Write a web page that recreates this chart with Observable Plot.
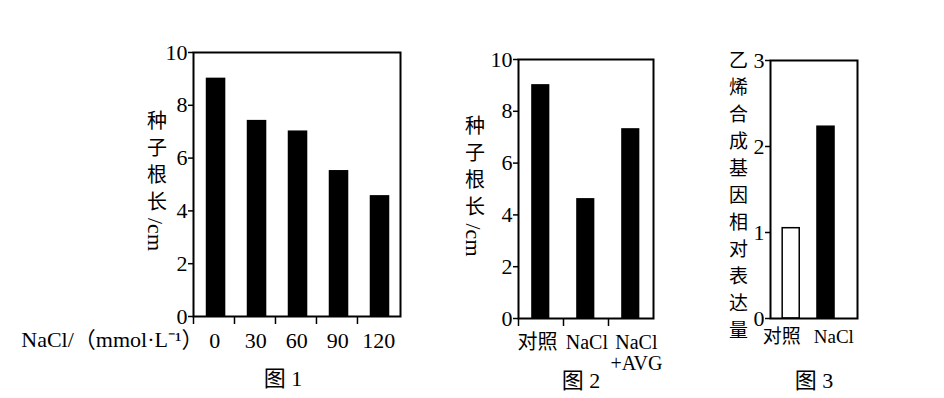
<!DOCTYPE html>
<html><head><meta charset="utf-8">
<script src="https://cdn.jsdelivr.net/npm/d3@7"></script>
<script src="https://cdn.jsdelivr.net/npm/@observablehq/plot@0.6"></script>
<style>
body{margin:0;background:#fff;}
#wrap{position:relative;width:944px;height:398px;overflow:hidden;background:#fff;}
#wrap svg{position:absolute;top:0;}
</style></head><body><div id="wrap"></div>
<script>
const fig1Categories = ["0", "30", "60", "90", "120"];
const fig1Values = [9.0, 7.4, 7.0, 5.5, 4.55];
const fig2Categories = ["对照", "NaCl", "NaCl\n+AVG"];
const fig2Values = [9.0, 4.6, 7.3];
const fig3Categories = ["对照", "NaCl"];
const fig3Values = [1.05, 2.23];
const fig1YTicks = [0, 2, 4, 6, 8, 10];
const fig2YTicks = [0, 2, 4, 6, 8, 10];
const fig3YTicks = [0, 1, 2, 3];
const rootLengthLabel = "种子根长/cm";
const ethyleneLabel = "乙烯合成基因相对表达量";
const fig1XLabel = "NaCl/（mmol·L⁻¹）";
const captions = ["图 1", "图 2", "图 3"];

const FONT = '"Liberation Serif","Noto Sans CJK SC",serif';
const CJK = /[\u4e00-\u9fff]/;

function panel(o) {
  const data = o.cats.map((c, i) => ({i, cat: c, v: o.vals[i]}));
  const marks = [
    Plot.rectY(data, {x1: d => d.i + o.bar[0], x2: d => d.i + o.bar[1], y1: 0, y2: "v",
      fill: o.fill || "black", stroke: "black", strokeWidth: 1.5}),
    Plot.frame({stroke: "black", strokeWidth: 2}),
    Plot.axisY({ticks: o.yTicks, tickSize: 5, tickPadding: 1, label: null, strokeWidth: 1.5, tickFormat: d => String(d)}),
    Plot.text(data, {x: d => d.i * o.labStep + o.lab, y: 0, text: "cat", dy: o.labDy, lineAnchor: "top", lineHeight: 1.08, fontSize: o.labSize}),
    Plot.text([o.ylabel], {frameAnchor: "left", textAnchor: "middle", dx: o.ylDx, dy: o.ylDy || 0, text: d => d, fontSize: o.ylSize, fill: "black"}),
    Plot.text([o.caption], {frameAnchor: "bottom", dx: o.capDx, dy: 62, lineAnchor: "middle", text: d => d, fontSize: 22})
  ];
  if (o.xticks) marks.push(Plot.axisX({ticks: d3.range(o.cats.length), tickFormat: () => "", tickSize: 8, strokeWidth: 1.5}));
  if (o.xlabel) marks.push(Plot.text([o.xlabel], {x: 0, y: 0, textAnchor: "end", dx: 10, dy: o.labDy, lineAnchor: "top", text: d => d, fontSize: o.labSize}));
  const svg = Plot.plot({
    width: o.width, height: 398,
    marginLeft: o.ml, marginRight: o.mr, marginTop: o.mt, marginBottom: o.mb,
    x: {domain: [0, o.xMax], axis: o.xticks ? undefined : null},
    y: {domain: o.yDomain},
    style: {fontFamily: FONT, fontSize: "22px", background: "transparent", overflow: "visible", color: "black"},
    marks
  });
  svg.style.left = o.left + "px";
  d3.select(svg).selectAll("text")
    .filter(function() { return this.textContent === o.ylabel; })
    .each(function() {
      const t = d3.select(this);
      const s = this.textContent;
      t.text(null)
        .attr("y", null)
        .attr("writing-mode", "vertical-rl")
        .style("writing-mode", "vertical-rl")
        .style("text-orientation", "mixed");
      s.match(/[\u4e00-\u9fff]+|[^\u4e00-\u9fff]+/g).forEach(r => {
        const isCJK = CJK.test(r);
        t.append("tspan")
          .style("letter-spacing", isCJK ? o.ls + "px" : "0px")
          .style("font-size", isCJK ? null : "22px")
          .text(r);
      });
    });
  document.getElementById("wrap").appendChild(svg);
}

panel({cats: fig1Categories, vals: fig1Values, yTicks: fig1YTicks, yDomain: [0, 10], xMax: 5.05,
  bar: [0.33, 0.77], lab: 0.52, labStep: 1, labDy: 15, labSize: 22, xticks: true, xlabel: fig1XLabel,
  ylabel: rootLengthLabel, ylDx: -38, ylDy: -4, ylSize: 20, ls: 7, caption: captions[0], capDx: -14,
  left: 0, width: 420, ml: 193, mr: 20, mt: 52, mb: 82});

panel({cats: fig2Categories, vals: fig2Values, yTicks: fig2YTicks, yDomain: [0, 10], xMax: 3,
  bar: [0.31, 0.68], lab: 0.42, labStep: 1.1, labDy: 15, labSize: 20, xticks: true,
  ylabel: rootLengthLabel, ylDx: -45, ylDy: -3, ylSize: 20, ls: 7, caption: captions[1], capDx: -5,
  left: 440, width: 230, ml: 78, mr: 17, mt: 59, mb: 80});

panel({cats: fig3Categories, vals: fig3Values, yTicks: fig3YTicks, yDomain: [0, 3], xMax: 2.5,
  bar: [0.35, 0.84], lab: 0.32, labStep: 1.5, labDy: 10, labSize: 19, xticks: false,
  fill: d => d.cat === "对照" ? "white" : "black",
  ylabel: ethyleneLabel, ylDx: -34, ylDy: 9, ylSize: 19, ls: 8, caption: captions[2], capDx: 0,
  left: 700, width: 200, ml: 70, mr: 43, mt: 60, mb: 80});
</script></body></html>
